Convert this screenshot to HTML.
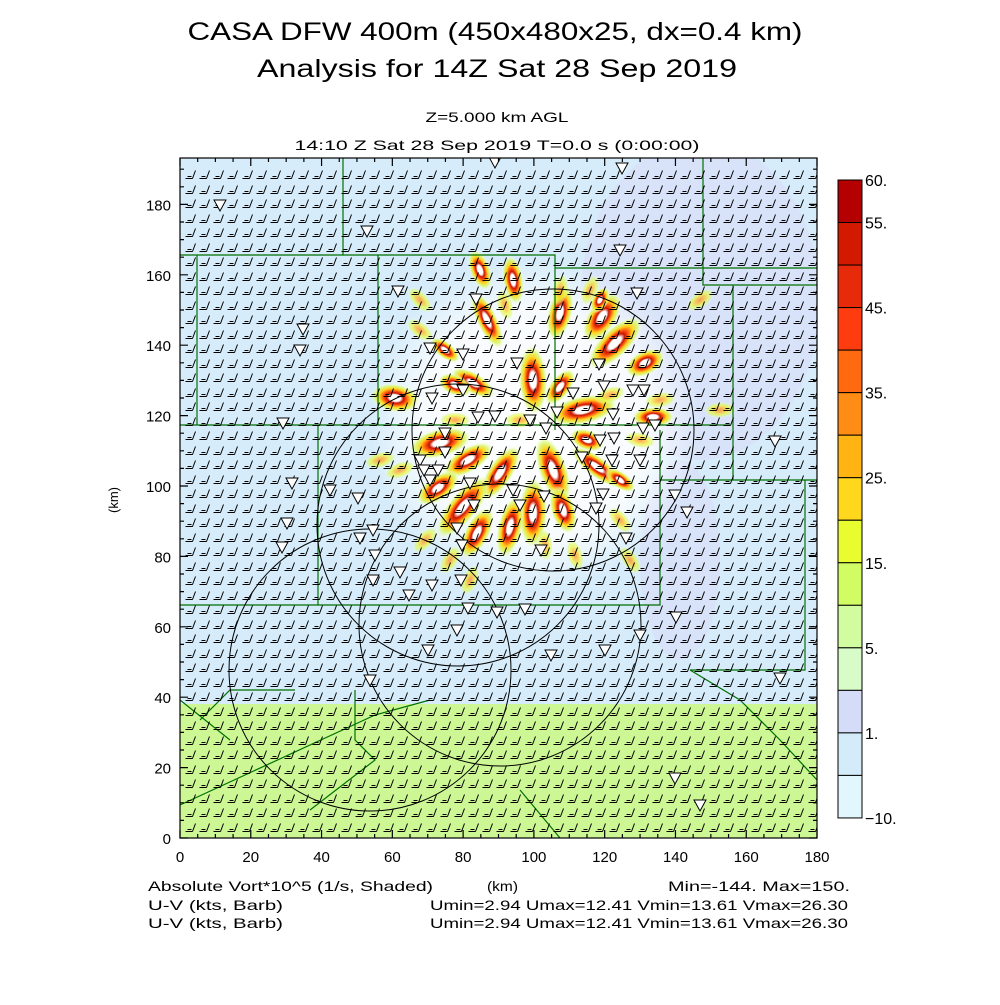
<!DOCTYPE html>
<html><head><meta charset="utf-8"><style>
html,body{margin:0;padding:0;background:#fff}
svg text{font-family:"Liberation Sans",sans-serif;fill:#000}
</style></head><body>
<svg id="s" width="1000" height="1000" viewBox="0 0 1000 1000" xmlns="http://www.w3.org/2000/svg">
<defs>
<clipPath id="cp"><rect x="180" y="158" width="637" height="680"/></clipPath>
<radialGradient id="halo"><stop offset="0" stop-color="#ffffff"/><stop offset="0.22" stop-color="#ffffff"/><stop offset="0.34" stop-color="#c81400"/><stop offset="0.47" stop-color="#ff5a10"/><stop offset="0.62" stop-color="#ffd21e"/><stop offset="0.8" stop-color="#d8f870" stop-opacity="0.85"/><stop offset="1" stop-color="#ffffff" stop-opacity="0"/></radialGradient>
<radialGradient id="halo2"><stop offset="0" stop-color="#ff7a10"/><stop offset="0.35" stop-color="#ffc020"/><stop offset="0.6" stop-color="#e8fc40"/><stop offset="0.8" stop-color="#d8f870" stop-opacity="0.8"/><stop offset="1" stop-color="#ffffff" stop-opacity="0"/></radialGradient>
<radialGradient id="wz"><stop offset="0" stop-color="#ffffff"/><stop offset="0.7" stop-color="#ffffff" stop-opacity="0.8"/><stop offset="1" stop-color="#ffffff" stop-opacity="0"/></radialGradient>
</defs>
<g clip-path="url(#cp)">
<rect x="180" y="158" width="637" height="546" fill="#d6ecfa"/>
<rect x="180" y="704" width="637" height="134" fill="#ccf794"/>
<ellipse cx="700" cy="300" rx="120" ry="160" fill="#d8def8" opacity="0.6"/>
<ellipse cx="680" cy="560" rx="40" ry="100" fill="#d8def8" opacity="0.7"/>
<ellipse cx="535" cy="425" rx="165" ry="165" fill="url(#wz)"/>
<g id="blobs"></g>
<g id="county" fill="none" stroke="#007000" stroke-width="1.2">
<path d="M343 158V255M180 255H555L555 268H817M197 255V425M180 425H730M378 255V425M318 425V605M180 605H660V430M703 158V285H817M733 285V480H817M660 480H733M805 480V670H690M180 700L230 740M180 805L375 715M295 690H230L200 720M355 690V740L375 760L310 810M375 715L430 700M690 670L740 700L780 740L817 780M520 790L560 838M555 255V430"/>
</g>
<g id="circ" fill="none" stroke="#000" stroke-width="1">
<circle cx="553" cy="430" r="141"/>
<circle cx="458" cy="525" r="141"/>
<circle cx="500" cy="625" r="141"/>
<circle cx="370" cy="670" r="141"/>
</g>
<g id="barbs" stroke="#000" stroke-width="1" fill="none"></g>
<g id="tri" stroke="#000" stroke-width="1" fill="none"></g>
</g>
<rect x="180" y="158" width="637" height="680" fill="none" stroke="#000" stroke-width="1.2"/>
<g id="ticks" stroke="#000" stroke-width="1.2"></g>
<g id="cb"></g>
<text x="495" y="40" font-size="25" text-anchor="middle" textLength="615" lengthAdjust="spacingAndGlyphs">CASA DFW 400m (450x480x25, dx=0.4 km)</text>
<text x="497" y="77" font-size="25" text-anchor="middle" textLength="480" lengthAdjust="spacingAndGlyphs">Analysis for 14Z Sat 28 Sep 2019</text>
<text x="497" y="122" font-size="14" text-anchor="middle" textLength="143" lengthAdjust="spacingAndGlyphs">Z=5.000 km AGL</text>
<text x="497" y="150" font-size="14" text-anchor="middle" textLength="405" lengthAdjust="spacingAndGlyphs">14:10 Z Sat 28 Sep 2019    T=0.0 s (0:00:00)</text>
<text x="148" y="891" font-size="14" textLength="285" lengthAdjust="spacingAndGlyphs">Absolute Vort*10^5 (1/s, Shaded)</text>
<text x="487" y="891" font-size="14" textLength="31" lengthAdjust="spacingAndGlyphs">(km)</text>
<text x="668" y="891" font-size="14" textLength="182" lengthAdjust="spacingAndGlyphs">Min=-144. Max=150.</text>
<text x="148" y="910" font-size="14" textLength="135" lengthAdjust="spacingAndGlyphs">U-V (kts, Barb)</text>
<text x="430" y="910" font-size="14" textLength="418" lengthAdjust="spacingAndGlyphs">Umin=2.94 Umax=12.41 Vmin=13.61 Vmax=26.30</text>
<text x="148" y="928" font-size="14" textLength="135" lengthAdjust="spacingAndGlyphs">U-V (kts, Barb)</text>
<text x="430" y="928" font-size="14" textLength="418" lengthAdjust="spacingAndGlyphs">Umin=2.94 Umax=12.41 Vmin=13.61 Vmax=26.30</text>
<text x="118" y="500" font-size="13" text-anchor="middle" transform="rotate(-90 118 500)">(km)</text>
</svg>
<script>
var NS="http://www.w3.org/2000/svg";
function el(p,t,a,txt){var e=document.createElementNS(NS,t);for(var k in a)e.setAttribute(k,a[k]);if(txt!=null)e.textContent=txt;document.getElementById(p).appendChild(e);return e;}
var d="";
for(var y=178;y<845;y+=14.5){for(var x=192;x<820;x+=14.15){
var X=Math.round(x)+0.5,Y=Math.round(y)+0.5;
d+="M"+X+" "+Y+"l3 -8M"+X+" "+Y+"h-7M"+(X-1)+" "+(Y-2)+"h-4";}}
el("barbs","path",{d:d});
var cx=535,cy=420;
var B=[[395,398,14,7],[440,443,18,7],[468,460,16,6],[533,380,20,7],[560,313,16,6],[602,317,16,7],[615,343,20,7],[645,363,12,6],[560,387,12,5],[583,410,20,7],[653,417,12,5],[500,473,18,6],[553,470,20,7],[533,513,20,7],[510,527,18,6],[463,507,22,7],[438,488,14,6],[477,533,16,6],[563,510,14,6],[597,467,18,5],[587,440,10,5],[513,280,14,5],[480,270,12,5],[487,320,18,5],[473,383,14,5],[455,385,10,5],[600,300,8,4],[445,350,10,4],[620,480,10,4]];
B.forEach(function(b){var a=Math.atan2(b[1]-cy,b[0]-cx)*180/Math.PI;
el("blobs","ellipse",{cx:b[0],cy:b[1],rx:b[2]*1.8,ry:b[3]*2.1,fill:"url(#halo)",transform:"rotate("+a+" "+b[0]+" "+b[1]+")"});});
var S=[[420,330],[455,420],[610,395],[640,440],[575,555],[425,540],[505,305],[520,420],[620,520],[450,560],[545,545],[590,290],[400,470],[660,400],[700,300],[720,410],[380,460],[470,580],[630,560],[420,300],[560,290]];
S.forEach(function(b){var a=Math.atan2(b[1]-cy,b[0]-cx)*180/Math.PI;
el("blobs","ellipse",{cx:b[0],cy:b[1],rx:16,ry:8,fill:"url(#halo2)",opacity:0.7,transform:"rotate("+a+" "+b[0]+" "+b[1]+")"});});
var T=[[220,205],[367,231],[622,168],[495,162],[620,250],[398,291],[476,299],[303,329],[300,350],[637,293],[463,354],[430,348],[463,390],[432,398],[495,416],[478,417],[517,363],[599,364],[573,393],[604,386],[613,414],[633,390],[644,390],[655,425],[643,428],[546,428],[557,412],[530,420],[600,440],[614,438],[612,460],[640,460],[582,457],[445,433],[445,452],[420,460],[438,470],[430,480],[470,483],[513,490],[520,505],[474,505],[457,528],[462,545],[424,470],[360,538],[375,555],[373,580],[400,572],[432,585],[461,580],[409,595],[468,608],[497,612],[525,609],[457,630],[428,650],[551,655],[605,650],[640,635],[676,617],[687,512],[675,495],[283,423],[292,483],[287,523],[330,490],[358,498],[373,530],[370,680],[282,547],[775,441],[780,678],[700,805],[675,778],[626,538],[603,494],[596,508],[541,550],[544,496]];
T.forEach(function(t){var x=t[0],y=t[1];el("tri","path",{d:"M"+(x-6)+" "+(y-5)+"h12l-6 11z",fill:"#fff"});});
var tk="";
for(var k=0;k<=180;k+=20){var x=180+k*3.539;tk+="M"+x+" 838v-8M"+x+" 158v8";
el("s","text",{x:x,y:862,"font-size":15,"text-anchor":"middle"},k);}
for(var k=0;k<=180;k+=20){var y=838-k*3.52;tk+="M180 "+y+"h8M817 "+y+"h-8";
el("s","text",{x:171,y:y+6,"font-size":15,"text-anchor":"end"},k);}
for(var k=5;k<=190;k+=5){var y=838-k*3.52;if(y>158){tk+="M180 "+y+"h4M817 "+y+"h-4";}var x=180+k*3.539;if(x<817&&k%20){tk+="M"+x+" 838v-4M"+x+" 158v4";}}
el("ticks","path",{d:tk});
var cols=["#b40000","#d21a00","#e62a0a","#ff3c10","#ff6a10","#ff8c14","#ffb414","#ffd81e","#e8fc30","#d2fc64","#d2fca0","#d8fcc8","#d4dcf8","#d4ecfa","#e2f6fe"];
var cbTop=180,cbH=42.53;
cols.forEach(function(c,i){el("cb","rect",{x:838,y:cbTop+i*cbH,width:24,height:cbH,fill:c,stroke:"#000","stroke-width":1});});
var L=[["60.",0],["55.",1],["45.",3],["35.",5],["25.",7],["15.",9],["5.",11],["1.",13],["\u221210.",15]];
L.forEach(function(l){el("cb","text",{x:865,y:cbTop+l[1]*cbH+6,"font-size":16},l[0]);});
</script>
</body></html>
